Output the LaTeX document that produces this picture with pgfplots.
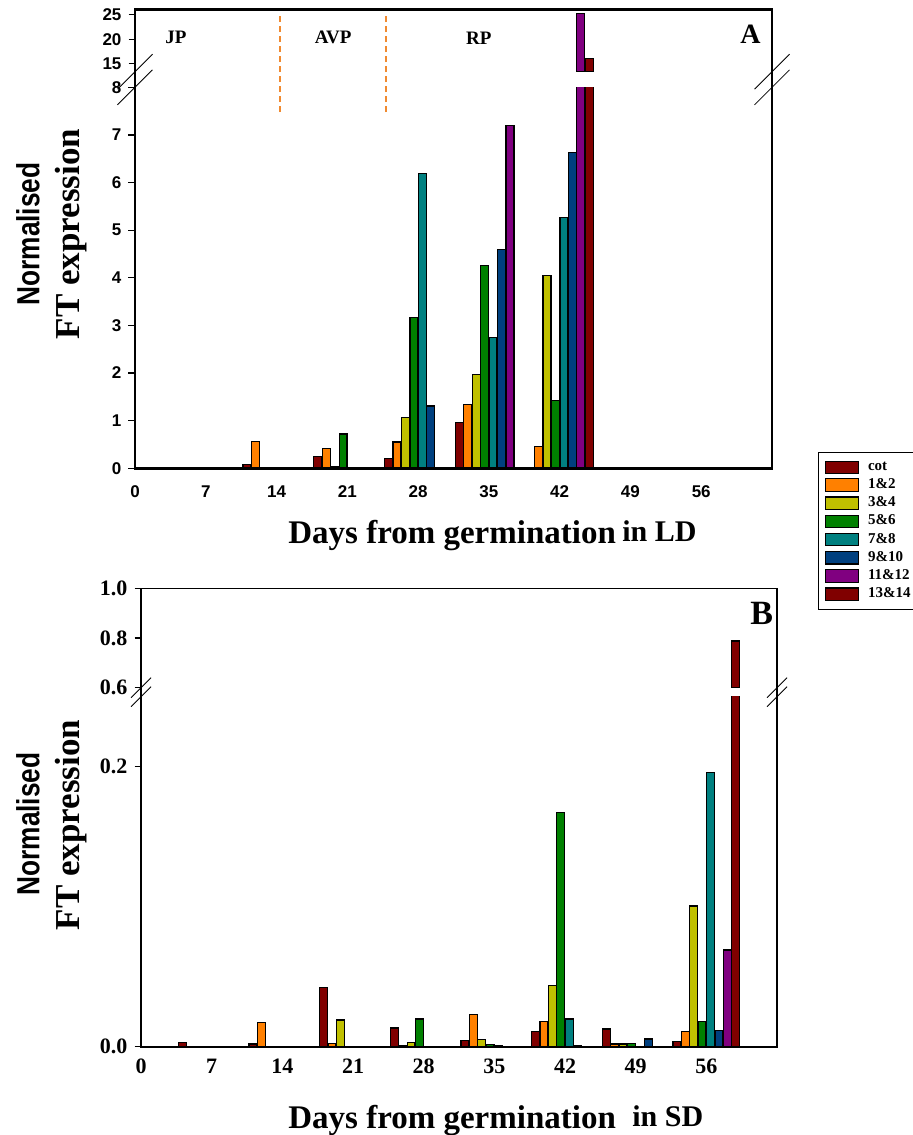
\documentclass[border=0pt]{standalone}
\usepackage{fontspec}
\setmainfont{Liberation Serif}
\newfontfamily\arial{Liberation Sans}
\usepackage{graphicx}
\usepackage{pgfplots}
\pgfplotsset{compat=1.18}

\definecolor{cMaroon}{HTML}{800000}
\definecolor{cOrange}{HTML}{FF8000}
\definecolor{cOlive}{HTML}{C0C000}
\definecolor{cGreen}{HTML}{008000}
\definecolor{cTeal}{HTML}{008080}
\definecolor{cBlue}{HTML}{00407F}
\definecolor{cPurple}{HTML}{800080}
\definecolor{cDash}{HTML}{F08A30}

\pgfplotsset{
  barstyle/.style={ybar, bar width=0.78, bar shift=0pt, draw=black, line width=0.6pt},
  frameaxis/.style={scale only axis, xmin=0, xmax=63, axis line style={draw=none},
    tick align=outside, ytick pos=left, xtick pos=bottom, major tick length=3.25pt,
    xtick style={draw=none}, ytick style={line width=0.6pt, black},
    /pgf/number format/assume math mode=true, clip mode=individual},
  legend image code/.code={\draw[#1] (0pt,-3.1pt) rectangle (16.7pt,3.1pt);},
}

\begin{document}
\begin{tikzpicture}
\useasboundingbox (0,0) rectangle (456.5pt,567.5pt);

% ---------------- Panel A, lower part ----------------
\begin{axis}[frameaxis, name=Alow, at={(67.5pt,333.35pt)}, anchor=south west,
  width=318.5pt, height=190.5pt, ymin=0, ymax=8,
  xtick={0,7,...,56}, ytick={0,1,...,8},
  tick label style={font=\arial\bfseries\fontsize{8.5}{10}\selectfont},
  xticklabel style={yshift=-2pt},
  legend style={draw=black, line width=0.5pt, at={(1.0727,0.042)}, anchor=north west,
    font=\bfseries\fontsize{7.5}{9}\selectfont, inner xsep=3pt, inner ysep=4pt,
    row sep=1.6pt, column sep=2.8pt, nodes={inner ysep=0.5pt, inner xsep=1.5pt}},
  legend cell align=left]
\addplot[barstyle, fill=cMaroon] table[row sep=\\, x expr=\thisrow{d}-2.919, y=v] {d v\\ 14 0.076\\ 21 0.24\\ 28 0.21\\ 35 0.96\\};
\addplot[barstyle, fill=cOrange] table[row sep=\\, x expr=\thisrow{d}-2.085, y=v] {d v\\ 14 0.57\\ 21 0.41\\ 28 0.55\\ 35 1.34\\ 42 0.45\\};
\addplot[barstyle, fill=cOlive] table[row sep=\\, x expr=\thisrow{d}-1.251, y=v] {d v\\ 21 0.03\\ 28 1.06\\ 35 1.97\\ 42 4.04\\};
\addplot[barstyle, fill=cGreen] table[row sep=\\, x expr=\thisrow{d}-0.417, y=v] {d v\\ 21 0.72\\ 28 3.16\\ 35 4.25\\ 42 1.43\\};
\addplot[barstyle, fill=cTeal] table[row sep=\\, x expr=\thisrow{d}+0.417, y=v] {d v\\ 28 6.19\\ 35 2.74\\ 42 5.26\\};
\addplot[barstyle, fill=cBlue] table[row sep=\\, x expr=\thisrow{d}+1.251, y=v] {d v\\ 28 1.31\\ 35 4.60\\ 42 6.63\\};
\addplot[barstyle, fill=cPurple] table[row sep=\\, x expr=\thisrow{d}+2.085, y=v] {d v\\ 35 7.19\\ 42 25.3\\};
\addplot[barstyle, fill=cMaroon] table[row sep=\\, x expr=\thisrow{d}+2.919, y=v] {d v\\ 42 16.1\\};
\legend{cot,1\&2,3\&4,5\&6,7\&8,9\&10,11\&12,13\&14}
\draw[cDash, line width=0.8pt, dash pattern=on 3pt off 2pt] (axis cs:14.35,7.48) -- (axis cs:14.35,9.51);
\draw[cDash, line width=0.8pt, dash pattern=on 3pt off 2pt] (axis cs:24.85,7.48) -- (axis cs:24.85,9.51);
\node[font=\bfseries\fontsize{9.5}{10}\selectfont] at (axis cs:4.06,9.04) {JP};
\node[font=\bfseries\fontsize{9.5}{10}\selectfont] at (axis cs:19.6,9.04) {AVP};
\node[font=\bfseries\fontsize{9.5}{10}\selectfont] at (axis cs:34.0,9.04) {RP};
\end{axis}

% ---------------- Panel A, upper part ----------------
\begin{axis}[frameaxis, name=Aup, at={(67.5pt,531.65pt)}, anchor=south west,
  width=318.5pt, height=30.85pt, ymin=13.33, ymax=26,
  xtick=\empty, ytick={15,20,25},
  tick label style={font=\arial\bfseries\fontsize{8.5}{10}\selectfont}]
\addplot[barstyle, fill=cPurple] table[row sep=\\, x expr=\thisrow{d}+2.085, y=v] {d v\\ 42 25.3\\};
\addplot[barstyle, fill=cMaroon] table[row sep=\\, x expr=\thisrow{d}+2.919, y=v] {d v\\ 42 16.1\\};
\end{axis}

\draw[line width=1.5pt] ([xshift=-0.3pt]Aup.north west) -- ([xshift=0.3pt]Aup.north east);
\draw[line width=1.5pt] ([xshift=-0.3pt]Alow.south west) -- ([xshift=0.3pt]Alow.south east);
\draw[line width=0.6pt] (Alow.south west) -- (Aup.north west);
\draw[line width=0.6pt] (Alow.south east) -- (Aup.north east);
\foreach \a in {Aup.south west, Alow.north west, Aup.south east, Alow.north east}{
  \draw[line width=0.4pt] ([shift={(-8.75pt,-8.75pt)}]\a) -- ([shift={(8.75pt,8.75pt)}]\a);
}
\node[font=\bfseries\fontsize{14}{14}\selectfont] at (375.25pt,550.4pt) {A};

% ---------------- Panel B, lower part ----------------
\begin{axis}[frameaxis, name=Blow, at={(70.5pt,44.15pt)}, anchor=south west,
  width=318pt, height=175pt, ymin=0, ymax=0.25,
  xtick={0,7,...,56}, ytick={0,0.2},
  tick label style={font=\bfseries\fontsize{11}{12}\selectfont},
  yticklabel style={/pgf/number format/.cd, fixed, fixed zerofill, precision=1},
  xticklabel style={yshift=0.5pt}]
\addplot[barstyle, fill=cMaroon] table[row sep=\\, x expr=\thisrow{d}-2.919, y=v] {d v\\ 7 0.0031\\ 14 0.0019\\ 21 0.0421\\ 28 0.0133\\ 35 0.0045\\ 42 0.0107\\ 49 0.0126\\ 56 0.0036\\};
\addplot[barstyle, fill=cOrange] table[row sep=\\, x expr=\thisrow{d}-2.085, y=v] {d v\\ 14 0.0174\\ 21 0.0021\\ 28 0.0005\\ 35 0.0229\\ 42 0.0181\\ 49 0.002\\ 56 0.0107\\};
\addplot[barstyle, fill=cOlive] table[row sep=\\, x expr=\thisrow{d}-1.251, y=v] {d v\\ 21 0.019\\ 28 0.0031\\ 35 0.0052\\ 42 0.0436\\ 49 0.002\\ 56 0.1005\\};
\addplot[barstyle, fill=cGreen] table[row sep=\\, x expr=\thisrow{d}-0.417, y=v] {d v\\ 28 0.0198\\ 35 0.0014\\ 42 0.167\\ 49 0.0024\\ 56 0.0179\\};
\addplot[barstyle, fill=cTeal] table[row sep=\\, x expr=\thisrow{d}+0.417, y=v] {d v\\ 35 0.001\\ 42 0.0198\\ 56 0.196\\};
\addplot[barstyle, fill=cBlue] table[row sep=\\, x expr=\thisrow{d}+1.251, y=v] {d v\\ 42 0.001\\ 49 0.0055\\ 56 0.0114\\};
\addplot[barstyle, fill=cPurple] table[row sep=\\, x expr=\thisrow{d}+2.085, y=v] {d v\\ 56 0.069\\};
\addplot[barstyle, fill=cMaroon] table[row sep=\\, x expr=\thisrow{d}+2.919, y=v] {d v\\ 56 0.788\\};
\end{axis}

% ---------------- Panel B, upper part ----------------
\begin{axis}[frameaxis, name=Bup, at={(70.5pt,223.65pt)}, anchor=south west,
  width=318pt, height=49.7pt, ymin=0.6, ymax=1.0,
  xtick=\empty, ytick={0.6,0.8,1.0},
  tick label style={font=\bfseries\fontsize{11}{12}\selectfont},
  yticklabel style={/pgf/number format/.cd, fixed, fixed zerofill, precision=1}]
\addplot[barstyle, fill=cMaroon] table[row sep=\\, x expr=\thisrow{d}+2.919, y=v] {d v\\ 56 0.788\\};
\end{axis}

\draw[line width=0.75pt] (Bup.north west) -- (Bup.north east);
\draw[line width=1pt] ([xshift=-0.3pt]Blow.south west) -- ([xshift=0.3pt]Blow.south east);
\draw[line width=0.75pt] (Blow.south west) -- (Bup.north west);
\draw[line width=0.75pt] (Blow.south east) -- (Bup.north east);
\foreach \a in {Bup.south west, Blow.north west, Bup.south east, Blow.north east}{
  \draw[line width=0.4pt] ([shift={(-5pt,-5pt)}]\a) -- ([shift={(5pt,5pt)}]\a);
}
\node[font=\bfseries\fontsize{17}{17}\selectfont] at (380.85pt,260.85pt) {B};

% ---------------- Titles ----------------
\node[rotate=90, font=\arial\bfseries\fontsize{16}{16}\selectfont] at (14pt,450.5pt) {\scalebox{0.82}[1]{Normalised}};
\node[rotate=90, font=\bfseries\fontsize{17.5}{17.5}\selectfont] at (35.75pt,450.5pt) {FT expression};
\node[rotate=90, font=\arial\bfseries\fontsize{16}{16}\selectfont] at (14pt,155.5pt) {\scalebox{0.82}[1]{Normalised}};
\node[rotate=90, font=\bfseries\fontsize{17.5}{17.5}\selectfont] at (35.75pt,155pt) {FT expression};

\node[anchor=base west, inner sep=0pt, font=\bfseries\fontsize{16.5}{16.5}\selectfont] at (144pt,295.5pt) {Days from germination};
\node[anchor=base west, inner sep=0pt, font=\bfseries\fontsize{15}{15}\selectfont] at (311pt,296.5pt) {in LD};
\node[anchor=base west, inner sep=0pt, font=\bfseries\fontsize{16.5}{16.5}\selectfont] at (144pt,3.35pt) {Days from germination};
\node[anchor=base west, inner sep=0pt, font=\bfseries\fontsize{15}{15}\selectfont] at (316pt,4.5pt) {in SD};
\end{tikzpicture}
\end{document}
